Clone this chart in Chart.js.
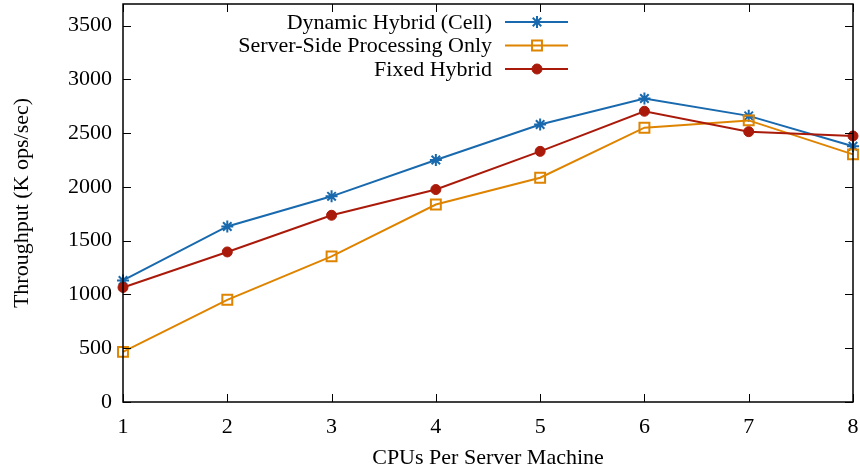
<!DOCTYPE html>
<html>
<head>
<meta charset="utf-8">
<script src="https://cdn.jsdelivr.net/npm/chart.js@4/dist/chart.umd.min.js"></script>
<style>
  html, body { margin: 0; padding: 0; background: #fff; }
  #wrap { width: 860px; height: 473px; }
</style>
</head>
<body>
<div id="wrap"><canvas id="c" width="860" height="473"></canvas></div>
<script>
// CPUs per server machine
const cpus = [1, 2, 3, 4, 5, 6, 7, 8];
// Throughput in K ops/sec for each configuration
const dynamicHybrid = [1130, 1632, 1912, 2250, 2580, 2822, 2660, 2378];
const serverOnly    = [466, 950, 1354, 1836, 2085, 2550, 2618, 2302];
const fixedHybrid   = [1065, 1395, 1736, 1975, 2330, 2703, 2513, 2473];
const yTicks = [0, 500, 1000, 1500, 2000, 2500, 3000, 3500];
const yMax = 3700;

const FONT = 'Liberation Serif';
const FS = 22;

// Framed plot with inward ticks on all four sides, plus a right-aligned key
const framePlugin = {
  id: 'frame',
  afterDraw(chart) {
    const { ctx, chartArea: a, scales: { x, y } } = chart;
    ctx.save();
    ctx.strokeStyle = '#000';
    ctx.lineWidth = 1.5;
    ctx.strokeRect(a.left, a.top, a.right - a.left, a.bottom - a.top);
    const t = 8;
    ctx.lineWidth = 1;
    ctx.beginPath();
    x.ticks.forEach(tk => {
      const px = Math.round(x.getPixelForValue(tk.value)) + 0.5;
      ctx.moveTo(px, a.bottom); ctx.lineTo(px, a.bottom - t);
      ctx.moveTo(px, a.top); ctx.lineTo(px, a.top + t);
    });
    y.ticks.forEach(tk => {
      const py = Math.round(y.getPixelForValue(tk.value)) + 0.5;
      ctx.moveTo(a.left, py); ctx.lineTo(a.left + t, py);
      ctx.moveTo(a.right, py); ctx.lineTo(a.right - t, py);
    });
    ctx.stroke();

    // key
    const textRight = 492, lineL = 505, lineR = 568, mid = 537;
    const rowTop = 22, rowGap = 23.5;
    ctx.font = FS + 'px "' + FONT + '"';
    ctx.textAlign = 'right';
    ctx.textBaseline = 'middle';
    chart.data.datasets.forEach((ds, i) => {
      const yy = rowTop + i * rowGap;
      ctx.fillStyle = '#000';
      ctx.fillText(ds.label, textRight, yy + 1);
      ctx.strokeStyle = ds.borderColor;
      ctx.lineWidth = ds.borderWidth;
      ctx.beginPath();
      ctx.moveTo(lineL, yy); ctx.lineTo(lineR, yy);
      ctx.stroke();
      ctx.fillStyle = ds.pointBackgroundColor;
      ctx.strokeStyle = ds.pointBorderColor;
      ctx.lineWidth = ds.pointBorderWidth;
      Chart.helpers.drawPoint(ctx, { pointStyle: ds.pointStyle, radius: ds.pointRadius, rotation: 0, borderWidth: ds.pointBorderWidth }, mid, yy);
    });
    ctx.restore();
  }
};

function noPad(s) {
  s.paddingLeft = 0; s.paddingRight = 0; s.paddingTop = 0; s.paddingBottom = 0;
}

const blue = '#1869ad', orange = '#de8400', red = '#aa1a0a';

new Chart(document.getElementById('c'), {
  type: 'line',
  data: {
    labels: cpus,
    datasets: [
      {
        label: 'Dynamic Hybrid (Cell)', data: dynamicHybrid, order: 2,
        borderColor: blue, borderWidth: 2, pointStyle: 'star', pointRadius: 6,
        pointBorderColor: blue, pointBackgroundColor: blue, pointBorderWidth: 2
      },
      {
        label: 'Server-Side Processing Only', data: serverOnly, order: 1,
        borderColor: orange, borderWidth: 2, pointStyle: 'rect', pointRadius: 7,
        pointBorderColor: orange, pointBackgroundColor: 'rgba(0,0,0,0)', pointBorderWidth: 2
      },
      {
        label: 'Fixed Hybrid', data: fixedHybrid, order: 0,
        borderColor: red, borderWidth: 2, pointStyle: 'circle', pointRadius: 5,
        pointBorderColor: red, pointBackgroundColor: red, pointBorderWidth: 1
      }
    ]
  },
  options: {
    responsive: false,
    animation: false,
    events: [],
    clip: false,
    layout: { autoPadding: false, padding: { left: 0, right: 7, top: 4, bottom: 0 } },
    elements: { line: { tension: 0, fill: false } },
    plugins: { legend: { display: false }, tooltip: { enabled: false } },
    scales: {
      x: {
        type: 'category',
        offset: false,
        grid: { display: false, drawTicks: false },
        border: { display: false },
        ticks: { color: '#000', font: { family: FONT, size: FS }, padding: 12, maxRotation: 0, autoSkip: false },
        title: { display: true, text: 'CPUs Per Server Machine', color: '#000', font: { family: FONT, size: FS }, padding: { top: 0, bottom: 2 } },
        afterFit(s) { s.height = 71; noPad(s); }
      },
      y: {
        min: 0, max: yMax,
        grid: { display: false, drawTicks: false },
        border: { display: false },
        ticks: { color: '#000', font: { family: FONT, size: FS }, padding: 11, autoSkip: false, callback: v => String(v) },
        afterBuildTicks(s) { s.ticks = yTicks.map(v => ({ value: v })); },
        title: { display: true, text: 'Throughput (K ops/sec)', color: '#000', font: { family: FONT, size: FS }, padding: { top: 9, bottom: 0 } },
        afterFit(s) { s.width = 123; noPad(s); }
      }
    }
  },
  plugins: [framePlugin]
});
</script>
</body>
</html>
